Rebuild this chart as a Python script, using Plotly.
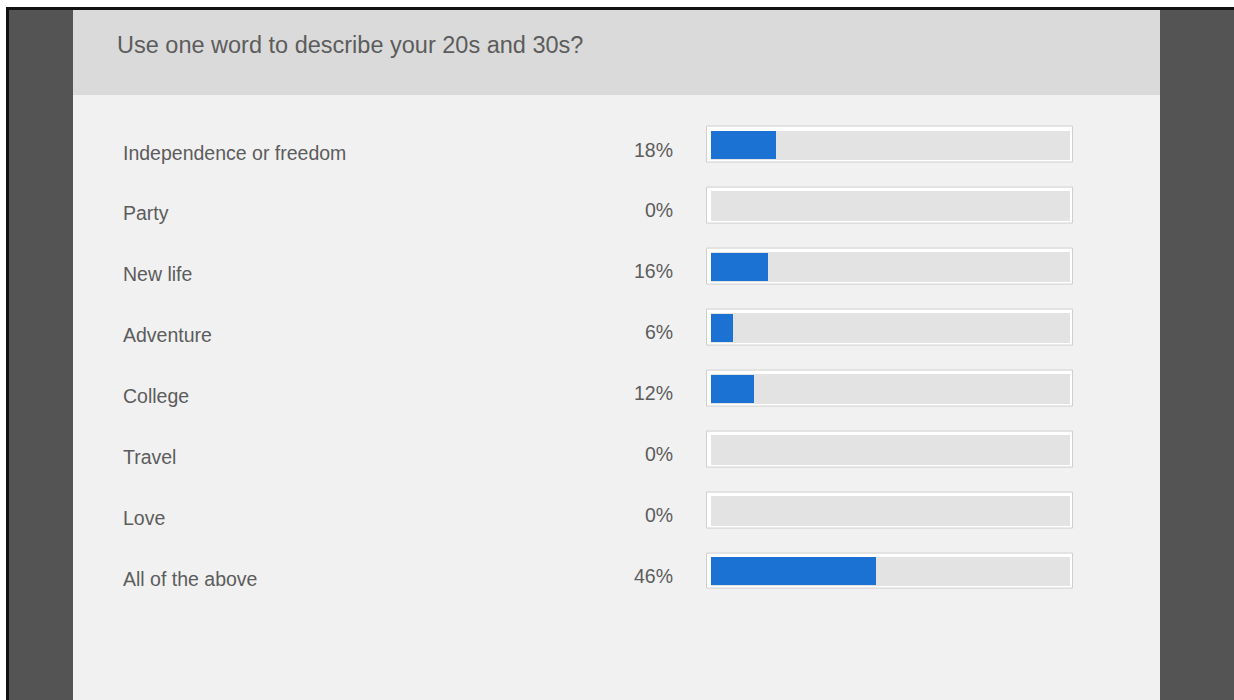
import plotly.graph_objects as go

# Poll question and results
question = "Use one word to describe your 20s and 30s?"
answers = [
    "Independence or freedom",
    "Party",
    "New life",
    "Adventure",
    "College",
    "Travel",
    "Love",
    "All of the above",
]
percents = [18, 0, 16, 6, 12, 0, 0, 46]

W, H = 1234, 700
FONT = "Liberation Sans, Arial, sans-serif"
TEXT_COLOR = "#5c5c5c"
BLUE = "#1c72d2"


def px_x(p):
    return p / W


def px_y(p):
    return 1 - p / H


rows = list(range(len(answers)))
n = len(answers)

# track interior spans 0..100 between these pixel columns
TRACK_L, TRACK_R = 711, 1070
UNIT = (TRACK_R - TRACK_L) / 100.0
AX_L, AX_R = 705, 1076

fig = go.Figure()

# outer frame of each result track
fig.add_trace(go.Bar(
    y=rows, x=[101.8] * n, base=[-1.0] * n, orientation="h", width=0.59,
    marker=dict(color="#ffffff", line=dict(color="#cfcfcf", width=1)),
    hoverinfo="skip", showlegend=False,
))
# grey track interior
fig.add_trace(go.Bar(
    y=rows, x=[100] * n, base=[0] * n, orientation="h", width=0.49,
    marker=dict(color="#e3e3e3", line=dict(width=0)),
    hoverinfo="skip", showlegend=False,
))
# result bars
fig.add_trace(go.Bar(
    y=rows, x=percents, base=[0] * n, orientation="h", width=0.46,
    marker=dict(color=BLUE, line=dict(width=0)),
    hovertemplate="%{customdata}: %{x}%<extra></extra>",
    customdata=answers, showlegend=False,
))

annotations = []
for i, (label, pct) in enumerate(zip(answers, percents)):
    annotations.append(dict(
        x=px_x(121), xref="paper", y=i, yref="y", yshift=-7.5,
        text=label, showarrow=False, xanchor="left", yanchor="middle",
        font=dict(family=FONT, size=19.5, color=TEXT_COLOR),
    ))
    annotations.append(dict(
        x=px_x(675), xref="paper", y=i, yref="y", yshift=-4.5,
        text=f"{pct}%", showarrow=False, xanchor="right", yanchor="middle",
        font=dict(family=FONT, size=19.5, color=TEXT_COLOR),
    ))

annotations.append(dict(
    x=px_x(115), xref="paper", y=px_y(44.5), yref="paper",
    text=question, showarrow=False, xanchor="left", yanchor="middle",
    font=dict(family=FONT, size=23.5, color=TEXT_COLOR),
))

shapes = [
    # black frame edge
    dict(type="rect", xref="paper", yref="paper", x0=px_x(6), x1=1, y0=0, y1=px_y(7),
         fillcolor="#111111", line=dict(width=0), layer="below"),
    # dark surround
    dict(type="rect", xref="paper", yref="paper", x0=px_x(9), x1=1, y0=0, y1=px_y(10),
         fillcolor="#545454", line=dict(width=0), layer="below"),
    # header band
    dict(type="rect", xref="paper", yref="paper", x0=px_x(73), x1=px_x(1160),
         y0=px_y(95), y1=px_y(10),
         fillcolor="#dadada", line=dict(width=0), layer="below"),
    # panel body
    dict(type="rect", xref="paper", yref="paper", x0=px_x(73), x1=px_x(1160),
         y0=0, y1=px_y(95),
         fillcolor="#f1f1f1", line=dict(width=0), layer="below"),
]

row_h = 60.86
top_px = 145 - row_h / 2
bottom_px = top_px + row_h * n

fig.update_layout(
    width=W, height=H,
    margin=dict(l=0, r=0, t=0, b=0, pad=0),
    paper_bgcolor="#ffffff",
    plot_bgcolor="rgba(0,0,0,0)",
    barmode="overlay",
    bargap=0,
    xaxis=dict(domain=[px_x(AX_L), px_x(AX_R)],
               range=[-(TRACK_L - AX_L) / UNIT, 100 + (AX_R - TRACK_R) / UNIT],
               visible=False, fixedrange=True),
    yaxis=dict(domain=[px_y(bottom_px), px_y(top_px)], range=[n - 0.5, -0.5],
               visible=False, fixedrange=True),
    shapes=shapes,
    annotations=annotations,
    showlegend=False,
)

fig.write_html("out.html", config={"displayModeBar": False})
